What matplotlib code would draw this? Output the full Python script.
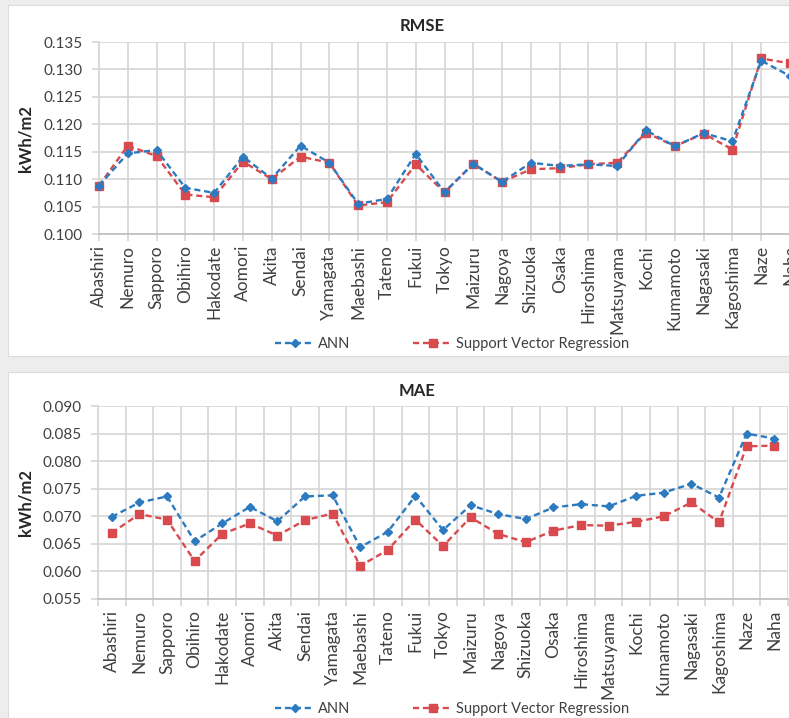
import numpy as np
import matplotlib
matplotlib.use("Agg")
import matplotlib.pyplot as plt
from matplotlib.lines import Line2D
from matplotlib.patches import Rectangle

plt.rcParams['font.family'] = ['Lato', 'DejaVu Sans']

stations = ["Abashiri", "Nemuro", "Sapporo", "Obihiro", "Hakodate", "Aomori",
            "Akita", "Sendai", "Yamagata", "Maebashi", "Tateno", "Fukui", "Tokyo",
            "Maizuru", "Nagoya", "Shizuoka", "Osaka", "Hiroshima", "Matsuyama",
            "Kochi", "Kumamoto", "Nagasaki", "Kagoshima", "Naze", "Naha"]

rmse_ann = [0.1088, 0.1147, 0.1153, 0.1084, 0.1075, 0.1141, 0.1101, 0.1161,
            0.1130, 0.1055, 0.1064, 0.1146, 0.1076, 0.1128, 0.1095, 0.1130,
            0.1124, 0.1127, 0.1124, 0.1189, 0.1160, 0.1184, 0.1169, 0.1316, 0.1288]
rmse_svr = [0.1088, 0.1161, 0.1142, 0.1072, 0.1067, 0.1132, 0.1100, 0.1141,
            0.1130, 0.1052, 0.1058, 0.1127, 0.1076, 0.1128, 0.1095, 0.1118,
            0.1120, 0.1127, 0.1130, 0.1185, 0.1160, 0.1183, 0.1154, 0.1320, 0.1311]

mae_ann = [0.0699, 0.0725, 0.0736, 0.0655, 0.0687, 0.0717, 0.0691, 0.0736,
           0.0738, 0.0644, 0.0672, 0.0737, 0.0675, 0.0720, 0.0704, 0.0695,
           0.0716, 0.0722, 0.0718, 0.0737, 0.0743, 0.0759, 0.0734, 0.0850, 0.0841]
mae_svr = [0.0670, 0.0704, 0.0694, 0.0619, 0.0668, 0.0687, 0.0665, 0.0693,
           0.0705, 0.0610, 0.0639, 0.0694, 0.0646, 0.0698, 0.0668, 0.0653,
           0.0674, 0.0684, 0.0683, 0.0690, 0.0700, 0.0725, 0.0689, 0.0827, 0.0828]

rmse_ticks = [0.100, 0.105, 0.110, 0.115, 0.120, 0.125, 0.130, 0.135]
mae_ticks = [0.055, 0.060, 0.065, 0.070, 0.075, 0.080, 0.085, 0.090]

BLUE = "#2c7bc0"
RED = "#d94a4f"
GRID = "#d6d6d6"
TXT = "#404040"
DARK = "#262626"

W, H = 789, 718
fig = plt.figure(figsize=(W / 100, H / 100), dpi=100)
fig.patch.set_facecolor("#ededed")

# page background: two white chart cards with a shadow between them
bg = fig.add_axes([0, 0, 1, 1], zorder=-10)
bg.set_xlim(0, W)
bg.set_ylim(H, 0)
bg.axis("off")
bg.add_patch(Rectangle((0, 0), W, H, facecolor="#ededed", edgecolor="none"))
bg.add_patch(Rectangle((8, 5), W, 351, facecolor="white", edgecolor="#dcdcdc", lw=0.8))
grad = np.clip(np.linspace(0.0, 1.0, 400) * 3.0, 0, 1)
shade = 0.93 - 0.38 * grad
img = np.tile(shade, (10, 1))
bg.imshow(img, cmap="gray", vmin=0, vmax=1, extent=(8, W, 371, 358),
          aspect="auto", interpolation="bilinear")
bg.add_patch(Rectangle((8, 372), W, 400, facecolor="white", edgecolor="#dcdcdc", lw=0.8))


def px_axes(left, top, right, bottom):
    return fig.add_axes([left / W, 1 - bottom / H, (right - left) / W, (bottom - top) / H])


def style(ax, yticks):
    ax.set_facecolor("none")
    ax.set_ylim(yticks[0], yticks[-1])
    ax.set_yticks(yticks)
    ax.set_yticklabels([f"{v:.3f}" for v in yticks])
    for s in ["top", "right"]:
        ax.spines[s].set_visible(False)
    ax.spines["left"].set_color(GRID)
    ax.spines["bottom"].set_color("#bfbfbf")
    ax.spines["left"].set_linewidth(1.2)
    ax.spines["bottom"].set_linewidth(1.2)
    ax.grid(True, which="major", color=GRID, linewidth=1.2)
    ax.set_axisbelow(True)
    ax.tick_params(axis="y", length=5, width=1.2, color=GRID, labelsize=11,
                   labelcolor=TXT, pad=6.5)
    ax.set_ylabel("kWh/m2", fontsize=12, fontweight="bold", color=DARK)


def plot_series(ax, x, a, s):
    ax.plot(x, a, color=BLUE, lw=1.7, linestyle=(0, (2.6, 1.6)), marker="D",
            markersize=4.5, clip_on=False, zorder=4, label="ANN")
    ax.plot(x, s, color=RED, lw=1.7, linestyle=(0, (2.6, 1.6)), marker="s",
            markersize=6, clip_on=False, zorder=3, label="Support Vector Regression")


x = np.arange(len(stations))

# RMSE panel: categories sit on the gridlines
ax1 = px_axes(99, 42, 790, 234)
style(ax1, rmse_ticks)
ax1.set_xlim(0, len(stations) - 1)
ax1.set_xticks(x)
ax1.set_xticklabels(stations, rotation=90, fontsize=12.5, color=TXT)
ax1.tick_params(axis="x", length=5, width=1.2, color=GRID, pad=3)
plot_series(ax1, x, rmse_ann, rmse_svr)
ax1.yaxis.set_label_coords((34 - 99) / 691, 0.5)
fig.text(422 / W, 1 - 26 / H, "RMSE", ha="center", va="center",
         fontsize=12, fontweight="bold", color=DARK)

# MAE panel: categories sit between the gridlines
ax2 = px_axes(98, 406, 788, 599)
style(ax2, mae_ticks)
ax2.set_xlim(-0.5, len(stations) - 0.5)
ax2.set_xticks(np.arange(-0.5, len(stations), 1.0))
ax2.set_xticklabels([])
ax2.set_xticks(x, minor=True)
ax2.set_xticklabels(stations, minor=True, rotation=90, fontsize=12.5, color=TXT)
ax2.tick_params(axis="x", which="major", length=5, width=1.2, color=GRID)
ax2.tick_params(axis="x", which="minor", length=0, pad=8)
plot_series(ax2, x, mae_ann, mae_svr)
ax2.yaxis.set_label_coords((34 - 98) / 690, 0.5)
fig.text(417 / W, 1 - 391 / H, "MAE", ha="center", va="center",
         fontsize=12, fontweight="bold", color=DARK)

# legends below each panel
handles = [
    Line2D([], [], color=BLUE, lw=1.7, linestyle=(0, (2.6, 1.6)), marker="D", markersize=4.5),
    Line2D([], [], color=RED, lw=1.7, linestyle=(0, (2.6, 1.6)), marker="s", markersize=6),
]
labels = ["ANN", "Support Vector Regression"]
for yc in (344, 709):
    fig.legend(handles, labels, loc="center", bbox_to_anchor=(452 / W, 1 - yc / H),
               ncol=2, frameon=False, fontsize=10.5, handlelength=2.7,
               handletextpad=0.25, columnspacing=4.3, labelcolor=TXT,
               borderaxespad=0, borderpad=0)

fig.savefig("out.png", dpi=100, facecolor=fig.get_facecolor())
